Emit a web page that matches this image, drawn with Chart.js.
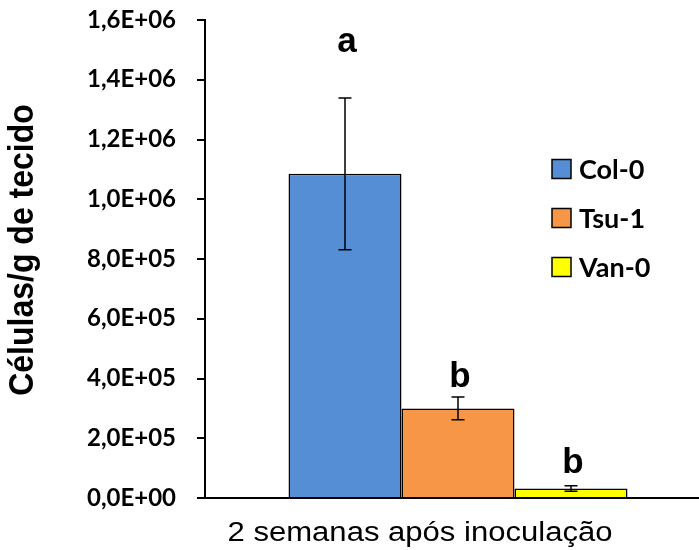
<!DOCTYPE html>
<html>
<head>
<meta charset="utf-8">
<script src="https://cdn.jsdelivr.net/npm/chart.js@4/dist/chart.umd.min.js"></script>
<style>
  html, body { margin: 0; padding: 0; background: #fff; overflow: hidden; }
  #wrap { width: 699px; height: 550px; position: relative; overflow: hidden; }
  #c { display: block; }
</style>
</head>
<body>
<div id="wrap"><canvas id="c" width="711" height="550"></canvas></div>
<script>
// Bacterial counts per genotype, two weeks after inoculation
const categories = ['2 semanas após inoculação'];
const genotypes = ['Col-0', 'Tsu-1', 'Van-0'];
const means = [1085000, 300000, 32000];
const errors = [254000, 38000, 9000];
const letters = ['a', 'b', 'b'];
const letterLevels = [1493000, 372000, 85000];
const yTickLabels = ['0,0E+00', '2,0E+05', '4,0E+05', '6,0E+05', '8,0E+05',
                     '1,0E+06', '1,2E+06', '1,4E+06', '1,6E+06'];
const yTitle = 'Células/g de tecido';
const colors = ['#558ED5', '#F79646', '#FFFF00'];

const datasets = genotypes.map((g, i) => ({
  label: g,
  data: [means[i]],
  backgroundColor: colors[i],
  borderColor: '#000',
  borderWidth: 1.5,
  borderSkipped: 'bottom',
  categoryPercentage: 0.67,
  barPercentage: 1.0
}));

// Error bars and significance letters drawn over the bars
const annotate = {
  id: 'annotate',
  afterDatasetsDraw(chart) {
    const ctx = chart.ctx;
    const y = chart.scales.y;
    ctx.save();
    chart.data.datasets.forEach((ds, i) => {
      const bar = chart.getDatasetMeta(i).data[0];
      const x = bar.x;
      const top = y.getPixelForValue(means[i] + errors[i]);
      const bot = y.getPixelForValue(means[i] - errors[i]);
      ctx.strokeStyle = '#000';
      ctx.lineWidth = 1.5;
      ctx.beginPath();
      ctx.moveTo(x, top); ctx.lineTo(x, bot);
      ctx.moveTo(x - 6.5, top); ctx.lineTo(x + 6.5, top);
      ctx.moveTo(x - 6.5, bot); ctx.lineTo(x + 6.5, bot);
      ctx.stroke();
      ctx.fillStyle = '#000';
      ctx.font = 'bold 35px "Liberation Sans", Arial, sans-serif';
      ctx.textAlign = 'center';
      ctx.textBaseline = 'alphabetic';
      ctx.fillText(letters[i], x + 2, y.getPixelForValue(letterLevels[i]));
    });
    ctx.restore();
  }
};

// Legend box inside the plot and the two axis titles
const decor = {
  id: 'decor',
  afterDraw(chart) {
    const ctx = chart.ctx;
    ctx.save();
    chart.data.datasets.forEach((ds, i) => {
      const cy = 169 + i * 49;
      ctx.fillStyle = ds.backgroundColor;
      ctx.fillRect(552, cy - 9.5, 19, 19);
      ctx.strokeStyle = '#000';
      ctx.lineWidth = 1.5;
      ctx.strokeRect(552, cy - 9.5, 19, 19);
      ctx.fillStyle = '#000';
      ctx.font = 'bold 27px Lato, sans-serif';
      ctx.textAlign = 'left';
      ctx.textBaseline = 'middle';
      ctx.fillText(ds.label, 579, cy + 1);
    });
    ctx.fillStyle = '#000';
    ctx.textAlign = 'center';
    ctx.textBaseline = 'alphabetic';
    ctx.save();
    ctx.translate(420, 541);
    ctx.scale(1.15, 1);
    ctx.font = '27px "Liberation Sans", Arial, sans-serif';
    ctx.fillText(categories[0], 0, 0);
    ctx.restore();
    ctx.translate(33, 250);
    ctx.rotate(-Math.PI / 2);
    ctx.scale(1, 1.1);
    ctx.font = 'bold 32px "Liberation Sans", Arial, sans-serif';
    ctx.fillText(yTitle, 0, 0);
    ctx.restore();
  }
};

new Chart(document.getElementById('c'), {
  type: 'bar',
  data: { labels: categories, datasets },
  options: {
    responsive: false,
    animation: false,
    layout: { padding: { top: 20, right: 0, left: 0, bottom: 0 } },
    plugins: { legend: { display: false }, tooltip: { enabled: false } },
    scales: {
      x: {
        ticks: { display: false },
        grid: { display: true, drawOnChartArea: false, drawTicks: false },
        border: { display: true, color: '#000', width: 2 },
        afterFit(scale) { scale.height = 52; scale.paddingLeft = 0; scale.paddingRight = 0; }
      },
      y: {
        min: 0,
        max: 1600000,
        ticks: {
          stepSize: 200000,
          color: '#000',
          padding: 21,
          font: { family: 'Lato', weight: 'bold', size: 24 },
          callback: (v, i) => yTickLabels[i]
        },
        grid: { drawOnChartArea: false, drawTicks: true, tickLength: 8, color: '#000', lineWidth: 2 },
        border: { display: true, color: '#000', width: 2 },
        afterFit(scale) { scale.width = 205; scale.paddingTop = 0; scale.paddingBottom = 0; }
      }
    }
  },
  plugins: [annotate, decor]
});
</script>
</body>
</html>
